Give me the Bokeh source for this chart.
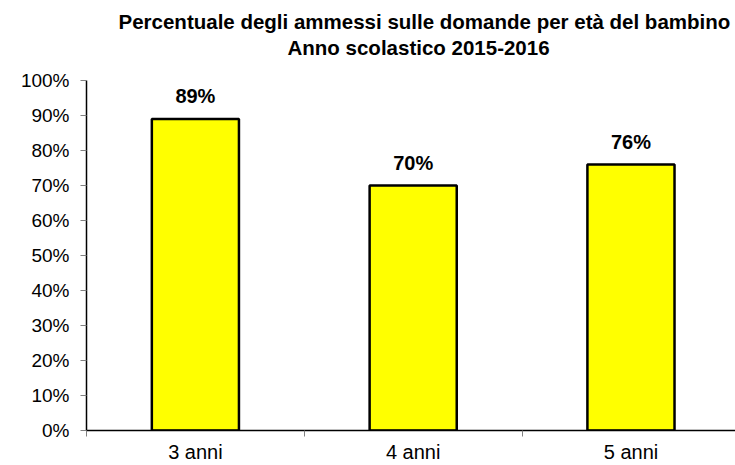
from bokeh.plotting import figure
from bokeh.models import (ColumnDataSource, Range1d, FixedTicker, PrintfTickFormatter, Title)
from bokeh.core.properties import value
from bokeh.embed import file_html
from bokeh.resources import INLINE

categories = ["3 anni", "4 anni", "5 anni"]
values = [89, 70, 76]
y_ticks = [0, 10, 20, 30, 40, 50, 60, 70, 80, 90, 100]
title_line1 = "Percentuale degli ammessi sulle domande per età del bambino"
title_line2 = "Anno scolastico 2015-2016"

xs = [i + 0.5 for i in range(len(categories))]
labels = [f"{v}%" for v in values]
src = ColumnDataSource(dict(x=xs, top=values, label=labels, cat=categories))

p = figure(width=735, height=465, output_backend="svg", toolbar_location=None,
           x_range=Range1d(0, 2.98), y_range=Range1d(0, 100),
           min_border_left=86, min_border_right=0, min_border_top=80, min_border_bottom=34)
p.title = None
p.add_layout(Title(text=title_line2, align="left", offset=201, standoff=43,
                   text_font="Liberation Sans",
                   text_font_size="20.5px", text_font_style="bold", text_color="black"), "above")
p.add_layout(Title(text=title_line1, align="left", offset=32, standoff=-40,
                   text_font="Liberation Sans",
                   text_font_size="20.5px", text_font_style="bold", text_color="black"), "above")

p.vbar(x="x", top="top", width=0.4, bottom=0, source=src,
       fill_color="#FFFF00", line_color="black", line_width=2.5)
p.text(x="x", y="top", text="label", source=src, text_align="center",
       text_baseline="middle", y_offset=-23, text_font=value("Liberation Sans"),
       text_font_size="20px", text_font_style="bold", text_color="black")

p.xgrid.visible = False
p.ygrid.visible = False
p.outline_line_color = None
p.background_fill_color = "white"
p.border_fill_color = "white"

# y axis
p.yaxis.ticker = FixedTicker(ticks=y_ticks)
p.yaxis.formatter = PrintfTickFormatter(format="%d%%")
p.yaxis.axis_line_color = "black"
p.yaxis.axis_line_width = 1.5
p.yaxis.major_tick_line_color = "#808080"
p.yaxis.major_tick_out = 6
p.yaxis.major_tick_in = 0
p.yaxis.minor_tick_line_color = None
p.yaxis.major_label_text_font = "Liberation Sans"
p.yaxis.major_label_text_font_size = "19px"
p.yaxis.major_label_text_color = "black"
p.yaxis.major_label_standoff = 11

# x axis: labels at centres, ticks at boundaries
p.xaxis.ticker = FixedTicker(ticks=xs, minor_ticks=[0, 1, 2, 3])
p.xaxis.major_label_overrides = {x: c for x, c in zip(xs, categories)}
p.xaxis.axis_line_color = "black"
p.xaxis.axis_line_width = 1.5
p.xaxis.major_tick_line_color = None
p.xaxis.major_tick_out = 0
p.xaxis.major_tick_in = 0
p.xaxis.minor_tick_line_color = "#808080"
p.xaxis.minor_tick_out = 6
p.xaxis.minor_tick_in = 0
p.xaxis.major_label_text_font = "Liberation Sans"
p.xaxis.major_label_text_font_size = "20px"
p.xaxis.major_label_text_color = "black"
p.xaxis.major_label_standoff = 4

open("out.html", "w").write(file_html(p, INLINE))
